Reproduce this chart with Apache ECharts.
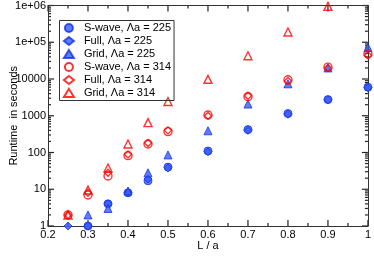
<!DOCTYPE html>
<html><head><meta charset="utf-8">
<script src="https://cdn.jsdelivr.net/npm/echarts@6/dist/echarts.min.js"></script>
<style>html,body{margin:0;padding:0;background:#fff}#c{width:374px;height:256px}</style>
</head><body><div id="c"></div>
<script>
const xValues  = [0.25, 0.3, 0.35, 0.4, 0.45, 0.5, 0.6, 0.7, 0.8, 0.9, 1.0];
const sWave225 = [null, 1, 4, 8, 17, 40, 110, 420, 1150, 2750, 6000];
const full225  = [1, 1, 4, 8, 19, 38, 105, 400, 1100, 2700, 5800];
const grid225  = [null, 2, 3, 9, 28, 86, 390, 2080, 7400, 20000, 72000];
const sWave314 = [2, 7, 23, 82, 170, 370, 1050, 3300, 9500, 21000, 48000];
const full314  = [2, 8, 28, 88, 180, 400, 1000, 3500, 8800, 20000, 44000];
const grid314  = [2, 9.5, 38, 170, 650, 2450, 9800, 43000, 190000, 950000, null];
const seriesNames = ['S-wave, \u039Ba = 225', 'Full, \u039Ba = 225', 'Grid, \u039Ba = 225',
                     'S-wave, \u039Ba = 314', 'Full, \u039Ba = 314', 'Grid, \u039Ba = 314'];
const yTickValues = [1, 10, 100, 1000, 10000, 100000, 1000000];
const yTickLabels = ['1', '10', '100', '1000', '10000', '1e+05', '1e+06'];
const xTickValues = [0.2, 0.3, 0.4, 0.5, 0.6, 0.7, 0.8, 0.9, 1.0];
const xMinorTicks = [0.25, 0.35, 0.45, 0.55, 0.65, 0.75, 0.85, 0.95];
const yMinorTicks = [];
for (let d = 0; d < 6; d++) for (let m = 2; m <= 9; m++) yMinorTicks.push(m * yTickValues[d]);

const X_MIN = 0.2, X_MAX = 1, Y_MIN = 1, Y_MAX = 1000000;
const MAJOR_LEN = 6, MINOR_LEN = 3;
const FONT = 'Liberation Sans';
const AX = '#333';
const TICK = '#222';
const pairs = arr => xValues.map((x, i) => [x, arr[i]]).filter(p => p[1] != null);

const blueStyle = {color: '#3b5bff', borderColor: '#1233e6', borderWidth: 1};
const redStyle = {color: 'rgba(255,255,255,0)', borderColor: '#ff0000', borderWidth: 1.4};

const mk = (name, arr, symbol, style, size) => ({
  name, type: 'scatter', data: pairs(arr), symbol, symbolSize: size,
  itemStyle: style, xAxisIndex: 0, yAxisIndex: 0, z: 3
});

const baseY = (pos, extra) => Object.assign({
  type: 'log', position: pos, min: Y_MIN, max: Y_MAX, logBase: 10,
  axisLine: {show: true, lineStyle: {color: AX, width: 1}},
  axisTick: {show: false}, minorTick: {show: false},
  axisLabel: {show: false}, splitLine: {show: false}
}, extra);

const baseX = (pos, extra) => Object.assign({
  type: 'value', position: pos, min: X_MIN, max: X_MAX, interval: 0.1,
  axisLine: {show: true, onZero: false, lineStyle: {color: AX, width: 1}},
  axisTick: {show: false}, minorTick: {show: false},
  axisLabel: {show: false}, splitLine: {show: false}
}, extra);

const chart = echarts.init(document.getElementById('c'), null, {renderer: 'canvas'});
chart.setOption({
  animation: false,
  textStyle: {fontFamily: FONT},
  grid: {left: 42, right: 4, top: 5, bottom: 23},
  xAxis: [
    baseX('bottom', {
      name: 'L / a', nameLocation: 'middle', nameGap: 14, nameMoveOverlap: false,
      nameTextStyle: {fontFamily: FONT, fontSize: 11, color: '#000'},
      axisLabel: {show: true, fontFamily: FONT, fontSize: 11, color: '#000', margin: 3,
        formatter: v => String(Math.round(v * 10) / 10)}
    }),
    baseX('top', {})
  ],
  yAxis: [
    baseY('left', {
      name: 'Runtime  in seconds', nameLocation: 'middle', nameGap: 29, nameRotate: 90,
      nameMoveOverlap: false,
      nameTextStyle: {fontFamily: FONT, fontSize: 11, color: '#000'},
      axisLabel: {show: true, fontFamily: FONT, fontSize: 11, color: '#000', margin: 2,
        formatter: v => {
          const i = yTickValues.findIndex(t => Math.abs(t - v) / t < 1e-6);
          return i >= 0 ? yTickLabels[i] : '';
        }}
    }),
    baseY('right', {})
  ],
  legend: {
    orient: 'vertical', left: 59.5, top: 20.5,
    padding: [2, 3, 2, 3.4], itemWidth: 10, itemHeight: 8, itemGap: 2,
    borderColor: AX, borderWidth: 1, selectedMode: false,
    textStyle: {fontFamily: FONT, fontSize: 11, color: '#000', padding: [0, 0, 0, 5]},
    data: seriesNames
  },
  series: [
    mk(seriesNames[0], sWave225, 'circle', blueStyle, 8),
    mk(seriesNames[1], full225, 'diamond', blueStyle, 8),
    mk(seriesNames[2], grid225, 'triangle', blueStyle, 8),
    mk(seriesNames[3], sWave314, 'circle', redStyle, 8),
    mk(seriesNames[4], full314, 'diamond', redStyle, 7),
    mk(seriesNames[5], grid314, 'triangle', redStyle, 8)
  ]
});

// Inward tick marks on all four sides, positioned through the chart's own axis scales.
const toPx = (x, y) => {
  let p = chart.convertToPixel({gridIndex: 0}, [x, y]);
  if (!p || !isFinite(p[0]) || !isFinite(p[1])) p = chart.convertToPixel({seriesIndex: 0}, [x, y]);
  return p;
};
const line = (x1, y1, x2, y2) => ({type: 'line', shape: {x1, y1, x2, y2},
  style: {stroke: TICK, lineWidth: 1.2}});
const tickEls = [];
const addY = (v, len) => {
  const l = toPx(X_MIN, v), r = toPx(X_MAX, v);
  if (!l || !r) return;
  tickEls.push(line(l[0], l[1], l[0] + len, l[1]), line(r[0], r[1], r[0] - len, r[1]));
};
const addX = (v, len) => {
  const b = toPx(v, Y_MIN), t = toPx(v, Y_MAX);
  if (!b || !t) return;
  tickEls.push(line(b[0], b[1], b[0], b[1] - len), line(t[0], t[1], t[0], t[1] + len));
};
yTickValues.forEach(v => addY(v, MAJOR_LEN));
yMinorTicks.forEach(v => addY(v, MINOR_LEN));
xTickValues.forEach(v => addX(v, MAJOR_LEN));
xMinorTicks.forEach(v => addX(v, MINOR_LEN));
chart.setOption({graphic: tickEls});
</script></body></html>
